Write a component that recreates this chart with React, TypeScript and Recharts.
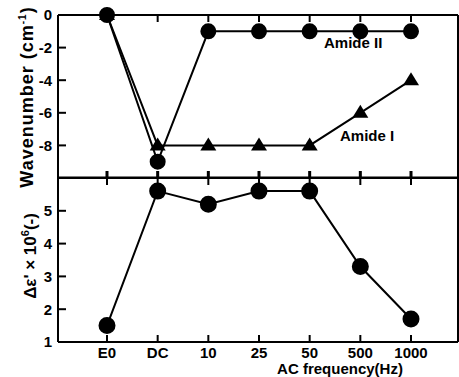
import React from "react";
import { LineChart, Line, XAxis, YAxis } from "recharts";

const freqs = ["E0", "DC", "10", "25", "50", "500", "1000"];
const amide2 = [0, -9, -1, -1, -1, -1, -1];
const amide1 = [0, -8, -8, -8, -8, -6, -4];
const deltaEps = [1.5, 5.6, 5.2, 5.6, 5.6, 3.3, 1.7];

const topMajor = [-10, -8, -6, -4, -2, 0];
const topMinor = Array.from({ length: 21 }, (_, i) => -10 + i * 0.5);
const botMajor = [1, 2, 3, 4, 5, 6];
const botMinor = Array.from({ length: 26 }, (_, i) => Math.round((1 + i * 0.2) * 10) / 10);

const topData = freqs.map((f, i) => ({ f, a2: amide2[i], a1: amide1[i] }));
const botData = freqs.map((f, i) => ({ f, d: deltaEps[i] }));

const FONT = "'Liberation Sans', Arial, sans-serif";
const pad = { left: 49, right: 47 };
const tickFont = { fill: "#000", fontSize: 15, fontWeight: "bold", fontFamily: FONT };
const blank = () => "";

const Triangle = (p: any) => {
  const { cx, cy, index } = p;
  return (
    <polygon
      key={"t" + index}
      points={`${cx},${cy - 8} ${cx - 8},${cy + 5} ${cx + 8},${cy + 5}`}
      fill="#000"
    />
  );
};

export default function App() {
  return (
    <div style={{ position: "absolute", left: 0, top: 0, width: 459, height: 377, background: "#fff", fontFamily: FONT }}>
      <div style={{ position: "absolute", left: 0, top: 0 }}>
        <LineChart width={459} height={179} data={topData} margin={{ top: 14, right: 0, bottom: 0, left: 0 }}>
          <XAxis xAxisId="t" dataKey="f" orientation="top" height={1} padding={pad} interval={0} stroke="#000" strokeWidth={2} tickSize={-7} tickFormatter={blank} />
          <XAxis xAxisId="b" dataKey="f" orientation="bottom" height={1} padding={pad} interval={0} stroke="#000" strokeWidth={3} tickSize={-7} tickFormatter={blank} />
          <YAxis yAxisId="l" width={58} domain={[-10, 0]} ticks={topMajor} interval={0} stroke="#000" strokeWidth={2} tickSize={-8} tickMargin={14} tick={tickFont} tickFormatter={(v: number) => (v === -10 ? "" : String(v))} />
          <YAxis yAxisId="lm" mirror width={1} domain={[-10, 0]} ticks={topMinor} interval={0} stroke="#000" strokeWidth={1.3} axisLine={false} tickSize={5} tickFormatter={blank} />
          <YAxis yAxisId="r" orientation="right" width={1} domain={[-10, 0]} ticks={topMajor} interval={0} stroke="#000" strokeWidth={2} tickSize={-8} tickFormatter={blank} />
          <YAxis yAxisId="rm" orientation="right" mirror width={1} domain={[-10, 0]} ticks={topMinor} interval={0} stroke="#000" strokeWidth={1.3} axisLine={false} tickSize={5} tickFormatter={blank} />
          <Line xAxisId="t" yAxisId="l" dataKey="a1" stroke="#000" strokeWidth={2} dot={Triangle} isAnimationActive={false} />
          <Line xAxisId="t" yAxisId="l" dataKey="a2" stroke="#000" strokeWidth={2} dot={{ r: 7, fill: "#000", stroke: "#000" }} isAnimationActive={false} />
        </LineChart>
      </div>
      <div style={{ position: "absolute", left: 0, top: 177 }}>
        <LineChart width={459} height={200} data={botData} margin={{ top: 0, right: 0, bottom: 0, left: 0 }}>
          <XAxis xAxisId="b" dataKey="f" height={35} padding={pad} interval={0} stroke="#000" strokeWidth={2} tickSize={-7} tickMargin={12} tick={tickFont} />
          <XAxis xAxisId="t" dataKey="f" orientation="top" height={1} padding={pad} interval={0} stroke="#000" strokeWidth={2} tickSize={-7} tickFormatter={blank} />
          <YAxis yAxisId="l" width={58} domain={[1, 6]} ticks={botMajor} interval={0} stroke="#000" strokeWidth={2} tickSize={-8} tickMargin={14} tick={tickFont} tickFormatter={(v: number) => (v === 6 ? "" : String(v))} />
          <YAxis yAxisId="lm" mirror width={1} domain={[1, 6]} ticks={botMinor} interval={0} stroke="#000" strokeWidth={1.3} axisLine={false} tickSize={5} tickFormatter={blank} />
          <YAxis yAxisId="r" orientation="right" width={1} domain={[1, 6]} ticks={botMajor} interval={0} stroke="#000" strokeWidth={2} tickSize={-8} tickFormatter={blank} />
          <YAxis yAxisId="rm" orientation="right" mirror width={1} domain={[1, 6]} ticks={botMinor} interval={0} stroke="#000" strokeWidth={1.3} axisLine={false} tickSize={5} tickFormatter={blank} />
          <Line xAxisId="b" yAxisId="l" dataKey="d" stroke="#000" strokeWidth={2} dot={{ r: 7.5, fill: "#000", stroke: "#000" }} isAnimationActive={false} />
        </LineChart>
      </div>
      <div style={{ position: "absolute", left: 324, top: 34, fontSize: 15, fontWeight: "bold" }}>Amide II</div>
      <div style={{ position: "absolute", left: 340, top: 127, fontSize: 15, fontWeight: "bold" }}>Amide I</div>
      <div style={{ position: "absolute", left: 265, top: 361, fontSize: 15, lineHeight: "15px", fontWeight: "bold", width: 150, textAlign: "center" }}>
        AC frequency(Hz)
      </div>
      <div
        style={{
          position: "absolute", left: 27, top: 97, fontSize: 18, fontWeight: "bold", whiteSpace: "nowrap",
          transform: "translate(-50%, -50%) rotate(-90deg)", letterSpacing: 1,
        }}
      >
        Wavenumber (cm<sup style={{ fontSize: 10 }}>-1</sup>)
      </div>
      <div
        style={{
          position: "absolute", left: 30, top: 256, fontSize: 17, fontWeight: "bold", whiteSpace: "nowrap",
          transform: "translate(-50%, -50%) rotate(-90deg)",
        }}
      >
        Δε' × 10<sup style={{ fontSize: 11 }}>6</sup>(-)
      </div>
    </div>
  );
}
